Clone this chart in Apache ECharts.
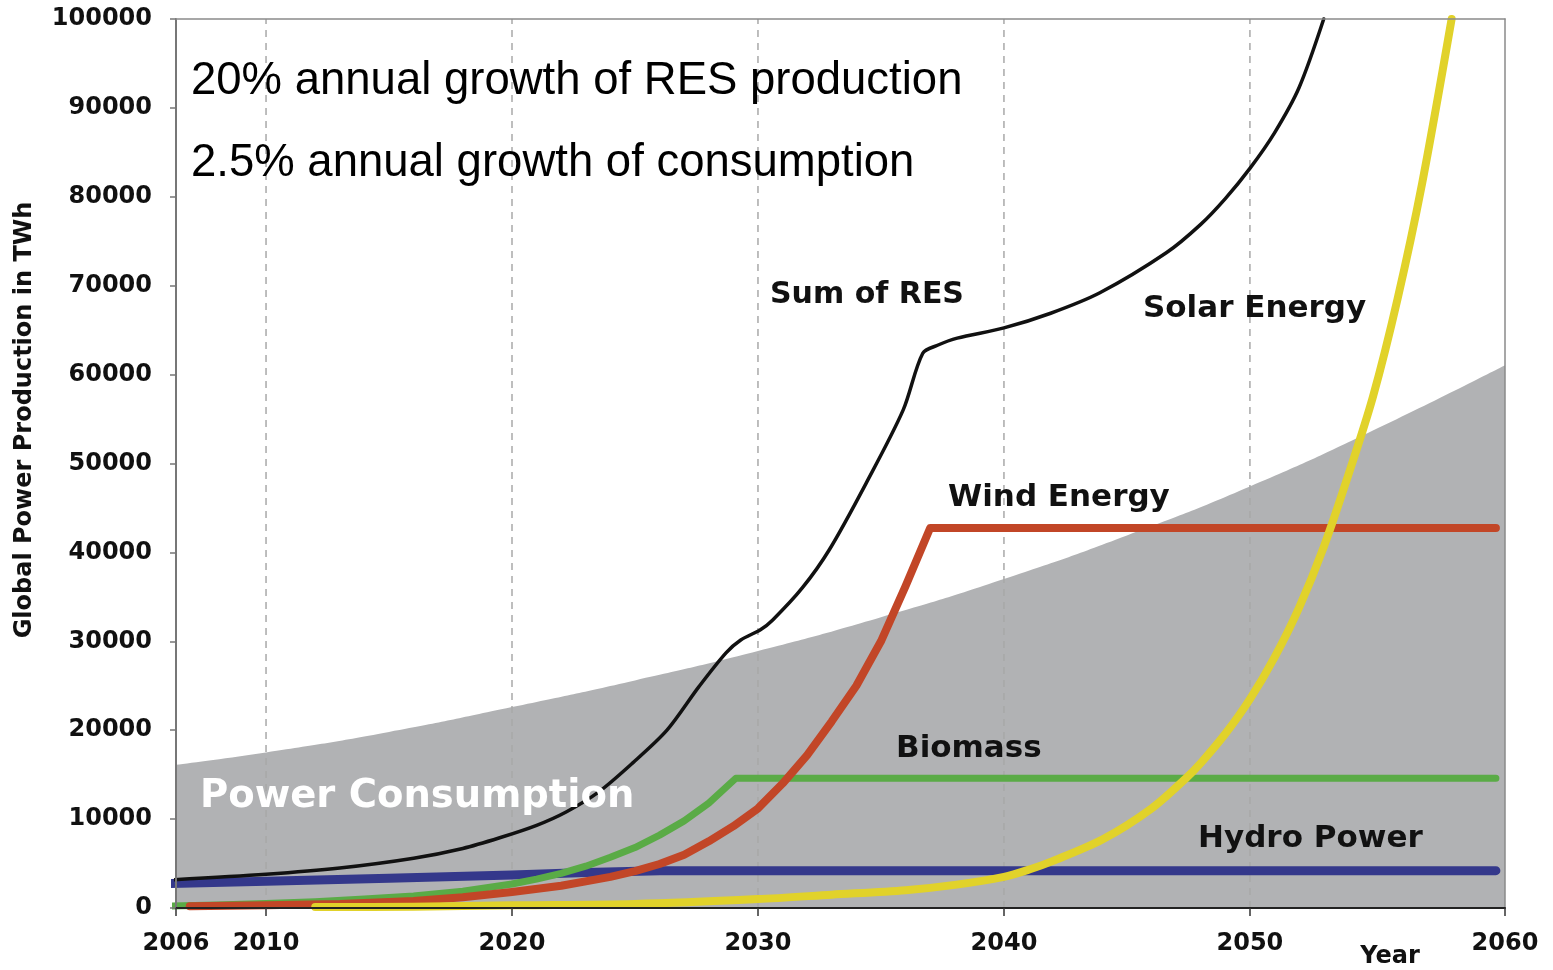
<!DOCTYPE html>
<html>
<head>
<meta charset="utf-8">
<script src="https://cdn.jsdelivr.net/npm/echarts@6/dist/echarts.min.js"></script>
<style>
  html, body { margin: 0; padding: 0; background: #fff; }
  #chart { width: 1553px; height: 970px; }
</style>
</head>
<body>
<div id="chart"></div>
<script>
// axis ticks
const yearTicks = [2006.34, 2010, 2020, 2030, 2040, 2050, 2060.37];
const gridYears = [2010, 2020, 2030, 2040, 2050];

// power consumption (grey area)
const consYears = [2006, 2010, 2015, 2020, 2025, 2030, 2035, 2040, 2045, 2050, 2055, 2060.4];
const consValues = [16000, 17500, 19800, 22600, 25600, 28900, 32700, 37000, 41900, 47400, 53700, 61100];

// hydro power
const hydroYears = [2006, 2010, 2015, 2020, 2023, 2026, 2060];
const hydroValues = [2750, 3000, 3350, 3700, 4000, 4200, 4200];

// biomass
const bioYears = [2006, 2008, 2010, 2012, 2014, 2016, 2018, 2020, 2021, 2022, 2023, 2024, 2025, 2026, 2027, 2028, 2029.1, 2060];
const bioValues = [200, 350, 500, 700, 1000, 1350, 1900, 2700, 3250, 3900, 4700, 5700, 6800, 8200, 9800, 11800, 14600, 14600];

// wind energy
const windYears = [2006.9, 2010, 2013, 2016, 2018, 2020, 2022, 2024, 2025, 2026, 2027, 2028, 2029, 2030, 2031, 2032, 2033, 2034, 2035, 2036, 2037, 2060];
const windValues = [200, 300, 450, 800, 1200, 1800, 2500, 3500, 4150, 4950, 6000, 7500, 9200, 11200, 14000, 17200, 21000, 25000, 30000, 36200, 42750, 42750];

// solar energy
const solarYears = [2012, 2016, 2020, 2025, 2030, 2033, 2036, 2038, 2040, 2041, 2042, 2044, 2046, 2047.4, 2048, 2049, 2050, 2051, 2052, 2053, 2054, 2055, 2056, 2057, 2058.2];
const solarValues = [100, 150, 300, 450, 1000, 1500, 2000, 2600, 3500, 4300, 5300, 7700, 11200, 14600, 16300, 19600, 23500, 28200, 33800, 40600, 48700, 57500, 68500, 81500, 100000];

// sum of RES
const sumYears = [2006, 2010, 2013, 2016, 2018, 2019.5, 2021, 2022.2, 2023.5, 2024.9, 2026.3, 2027.6, 2028.7, 2029.3, 2030.1, 2030.6, 2031.8, 2032.9, 2034.4, 2035.9, 2036.7, 2037.3, 2038.1, 2040, 2041.9, 2043.9, 2046.6, 2048, 2049, 2050, 2051, 2052, 2053];
const sumValues = [3150, 3800, 4500, 5600, 6700, 7900, 9300, 10800, 13000, 16300, 20000, 24900, 28700, 30150, 31300, 32400, 36000, 40300, 47800, 56000, 62400, 63300, 64100, 65250, 66900, 69200, 73700, 76900, 79800, 83200, 87200, 92300, 100000];

const pairs = (xs, ys) => xs.map((x, i) => [x, ys[i]]);

const chart = echarts.init(document.getElementById("chart"));

const boldFont = "DejaVu Sans";
const lineSeries = (name, xs, ys, color, width, smooth) => ({
  name: name,
  type: "line",
  data: pairs(xs, ys),
  showSymbol: false,
  symbol: "none",
  smooth: smooth,
  clip: false,
  lineStyle: { color: color, width: width, cap: "round", join: "round" },
});

let series = [];
gridYears.forEach((yr) => {
  series.push({
    type: "line",
    data: [[yr, 0], [yr, 100000]],
    showSymbol: false,
    symbol: "none",
    silent: true,
    lineStyle: { color: "#a8a8a8", width: 1.5, type: [7, 6] },
  });
});
series.push({
  name: "Power Consumption",
  type: "line",
  data: pairs(consYears, consValues),
  showSymbol: false,
  symbol: "none",
  smooth: true,
  lineStyle: { width: 0 },
  areaStyle: { color: "#b1b2b4", opacity: 1 },
});
series.push(lineSeries("Hydro Power", hydroYears, hydroValues, "#34388b", 9, false));
series.push(lineSeries("Biomass", bioYears, bioValues, "#5aab46", 7, false));
series.push(lineSeries("Wind Energy", windYears, windValues, "#c24627", 8, false));
series.push(lineSeries("Solar Energy", solarYears, solarValues, "#e1d22a", 8, 0.3));
series.push(lineSeries("Sum of RES", sumYears, sumValues, "#111111", 3.5, 0.3));

const label = (text, x, y, size, color) => ({
  type: "text",
  x: x,
  y: y,
  z: 100,
  silent: true,
  style: {
    text: text,
    fill: color || "#111",
    fontFamily: boldFont,
    fontWeight: "bold",
    fontSize: size,
    textVerticalAlign: "middle",
  },
});

const option = {
  backgroundColor: "#ffffff",
  animation: false,
  grid: { left: 176, right: 48, top: 19, bottom: 62 },
  xAxis: [
    {
      type: "value",
      min: 2006.34,
      max: 2060.37,
      z: 10,
      axisLine: { show: true, lineStyle: { color: "#222", width: 2 } },
      axisTick: { show: true, length: 8, customValues: yearTicks, lineStyle: { color: "#333", width: 1.5 } },
      axisLabel: {
        customValues: yearTicks,
        formatter: (v) => String(Math.round(v)),
        margin: 24,
        color: "#111",
        fontFamily: boldFont,
        fontWeight: "bold",
        fontSize: 24,
      },
      splitLine: { show: false },
    },
    {
      type: "value",
      position: "top",
      min: 2006.34,
      max: 2060.37,
      z: 10,
      axisLine: { show: true, onZero: false, lineStyle: { color: "#8a8a8a", width: 1.5 } },
      axisTick: { show: false },
      axisLabel: { show: false },
      splitLine: { show: false },
    },
  ],
  yAxis: [
    {
      type: "value",
      min: 0,
      max: 100000,
      interval: 10000,
      z: 10,
      axisLine: { show: true, lineStyle: { color: "#777", width: 2 } },
      axisTick: { show: true, length: 6, lineStyle: { color: "#777", width: 1.5 } },
      axisLabel: {
        formatter: (v) => String(v),
        margin: 24,
        color: "#111",
        fontFamily: boldFont,
        fontWeight: "bold",
        fontSize: 24,
      },
      splitLine: { show: false },
    },
    {
      type: "value",
      position: "right",
      min: 0,
      max: 100000,
      z: 10,
      axisLine: { show: true, onZero: false, lineStyle: { color: "#8a8a8a", width: 1.5 } },
      axisTick: { show: false },
      axisLabel: { show: false },
      splitLine: { show: false },
    },
  ],
  graphic: [
    {
      type: "text", x: 191, y: 81, z: 100, silent: true,
      style: { text: "20% annual growth of RES production", fill: "#000", fontFamily: "Liberation Sans", fontSize: 45.5, textVerticalAlign: "middle" },
    },
    {
      type: "text", x: 191, y: 163, z: 100, silent: true,
      style: { text: "2.5% annual growth of consumption", fill: "#000", fontFamily: "Liberation Sans", fontSize: 45.5, textVerticalAlign: "middle" },
    },
    {
      type: "text", x: 25, y: 420, z: 100, silent: true, rotation: Math.PI / 2,
      style: { text: "Global Power Production in TWh", fill: "#111", fontFamily: boldFont, fontWeight: "bold", fontSize: 24, textAlign: "center", textVerticalAlign: "middle" },
    },
    label("Power Consumption", 200, 797, 38.5, "#ffffff"),
    label("Sum of RES", 770, 295, 30),
    label("Solar Energy", 1143, 309, 31),
    label("Wind Energy", 948, 498, 31),
    label("Biomass", 896, 749, 31),
    label("Hydro Power", 1198, 839, 31),
    {
      type: "text", x: 1390, y: 957, z: 100, silent: true,
      style: { text: "Year", fill: "#111", fontFamily: boldFont, fontWeight: "bold", fontSize: 24, textAlign: "center", textVerticalAlign: "middle" },
    },
  ],
  series: series,
};

chart.setOption(option);
</script>
</body>
</html>
